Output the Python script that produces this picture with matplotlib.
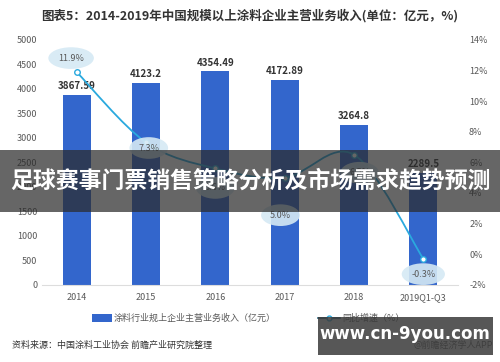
#Purpose: bar + growth-line chart of coating industry revenue 2014-2019
import numpy as np
from matplotlib import pyplot as plt
from matplotlib.path import Path
from matplotlib.patches import PathPatch, Rectangle

plt.rcParams['font.family'] = ['Noto Sans CJK SC', 'DejaVu Sans']

#data
years = ['2014', '2015', '2016', '2017', '2018', '2019Q1-Q3']
revenue = [3867.59, 4123.2, 4354.49, 4172.89, 3264.8, 2289.5]
growth = [11.9, 7.3, 5.6, 5.0, 6.5, -0.3]
revenue_ticks = [0, 500, 1000, 1500, 2000, 2500, 3000, 3500, 4000, 4500, 5000]
growth_ticks = [-2, 0, 2, 4, 6, 8, 10, 12, 14]

bar_color = '#3366cc'
line_color = '#2aa9de'
gray = '#595959'

#Function: smooth path through points (catmull-rom turned into bezier pieces)
def smooth_path(xs, ys):
    pts = np.column_stack([xs, ys]).astype(float)
    verts = [pts[0]]
    codes = [Path.MOVETO]
    n = len(pts)
    for i in range(n - 1):
        p0 = pts[max(i - 1, 0)]
        p1 = pts[i]
        p2 = pts[i + 1]
        p3 = pts[min(i + 2, n - 1)]
        c1 = p1 + (p2 - p0) / 6.0
        c2 = p2 - (p3 - p1) / 6.0
        verts += [c1, c2, p2]
        codes += [Path.CURVE4] * 3
    return Path(verts, codes)

fig = plt.figure(figsize=(5.0, 3.62), dpi=100)
ax = fig.add_axes([0.084, 0.213, 0.832, 0.677])
ax2 = ax.twinx()

x = np.arange(len(years))
ax.bar(x, revenue, width=0.4, color=bar_color, zorder=2)
for xi, v in zip(x, revenue):
    ax.text(xi, v + 80, f'{v:g}', ha='center', va='bottom', fontsize=7,
            fontweight='bold', color='#333333')

ax.set_ylim(0, 5000)
ax.set_yticks(revenue_ticks)
ax.set_xlim(-0.5, len(years) - 0.5)
ax.set_xticks(x)
ax.set_xticklabels(years)
ax.tick_params(axis='both', length=0, labelsize=6.5, colors=gray)
ax.tick_params(axis='x', pad=6)
for s in ['top', 'right', 'left']:
    ax.spines[s].set_visible(False)
ax.spines['bottom'].set_color('#dddddd')

ax2.set_ylim(-2, 14)
ax2.set_yticks(growth_ticks)
ax2.set_yticklabels([f'{t}%' for t in growth_ticks])
ax2.tick_params(axis='y', length=0, labelsize=6.5, colors=gray, pad=8)
for s in ['top', 'right', 'left', 'bottom']:
    ax2.spines[s].set_visible(False)

ax2.add_patch(PathPatch(smooth_path(x, growth), facecolor='none',
                        edgecolor=line_color, lw=1.3, zorder=3))
ax2.plot(x, growth, 'o', ms=4, mfc='white', mec=line_color, mew=1, zorder=4)

label_offsets = [(-4, 10), (2, -4), (0, -14), (-3, -27), (4, -13), (0, -11)]
for xi, g, off in zip(x, growth, label_offsets):
    ax2.annotate(f'{g}%', (xi, g), xytext=off,
                 textcoords='offset points', ha='center', va='center',
                 fontsize=6.5, color=gray, zorder=5,
                 bbox=dict(boxstyle='ellipse,pad=0.35', fc='#d5e9f4',
                           ec='none', alpha=0.9))

#title
fig.text(0.5, 0.958, '图表5：2014-2019年中国规模以上涂料企业主营业务收入(单位：亿元，%)',
         ha='center', va='center', fontsize=9, fontweight='bold', color='#333333')

#legend drawn by hand
fig.patches.append(Rectangle((0.184, 0.111), 0.04, 0.022, transform=fig.transFigure,
                             facecolor=bar_color, edgecolor='none'))
fig.text(0.228, 0.122, '涂料行业规上企业主营业务收入（亿元）', ha='left', va='center',
         fontsize=6.5, color=gray)
fig.lines.append(plt.Line2D([0.636, 0.68], [0.122, 0.122], transform=fig.transFigure,
                            color='#1f5f7a', lw=1.2))
fig.lines.append(plt.Line2D([0.658], [0.122], transform=fig.transFigure, color=line_color,
                            marker='o', ms=3.5, mfc='white', mec=line_color, lw=0))
fig.text(0.684, 0.122, '同比增速（%）', ha='left', va='center', fontsize=6.5, color=gray)

#source line
fig.text(0.024, 0.045, '资料来源：中国涂料工业协会 前瞻产业研究院整理', ha='left', va='center',
         fontsize=6.5, color='#333333')
fig.text(0.985, 0.045, '@前瞻经济学人APP', ha='right', va='center', fontsize=6.5,
         color=gray)

#overlay banner across the middle
fig.patches.append(Rectangle((0.0, 0.415), 1.0, 0.17, transform=fig.transFigure,
                             facecolor='#2b2b2b', alpha=0.72, edgecolor='none', zorder=10))
fig.text(0.5, 0.5, '足球赛事门票销售策略分析及市场需求趋势预测', ha='center', va='center',
         fontsize=16.5, fontweight='bold', color='white', zorder=11)

#overlay box bottom right
fig.patches.append(Rectangle((0.636, 0.02), 0.35, 0.105, transform=fig.transFigure,
                             facecolor='#3a3a3a', alpha=0.85, edgecolor='none', zorder=10))
fig.text(0.81, 0.078, 'www.cn-9you.com', ha='center', va='center', fontsize=12,
         fontweight='bold', color='white', family='DejaVu Sans', zorder=11)

fig.savefig('out.png', dpi=100)
